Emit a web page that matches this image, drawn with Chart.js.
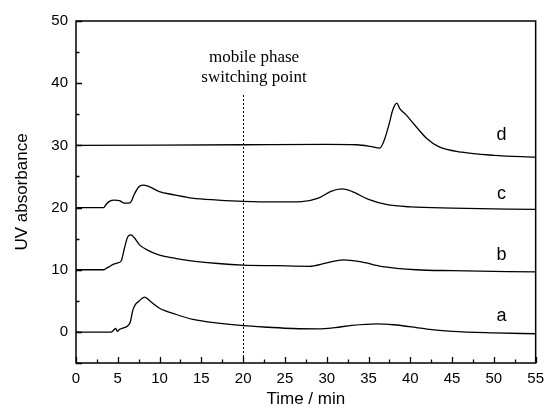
<!DOCTYPE html>
<html>
<head>
<meta charset="utf-8">
<script src="https://cdn.jsdelivr.net/npm/chart.js@4"></script>
<style>
  html, body { margin: 0; padding: 0; background: #fff; }
  #wrap { width: 551px; height: 414px; }
</style>
</head>
<body>
<div id="wrap"><canvas id="chart"></canvas></div>
<script>
// chromatogram traces (time in min, absorbance)
const timeA = [0, 2, 4.2, 4.5, 4.75, 4.95, 5.2, 5.6, 6.2, 6.5, 6.8, 7.1, 7.5, 8.2, 9, 10, 12, 14, 17, 20, 23, 26, 29, 31, 33, 36, 38, 40.7, 42, 45, 50, 55];
const valA  = [0, -0.05, -0.05, 0.3, 0.55, 0.1, 0.4, 0.6, 1.0, 1.6, 3.5, 4.4, 4.9, 5.6, 4.8, 3.8, 2.8, 2.0, 1.4, 1.0, 0.75, 0.55, 0.5, 0.7, 1.05, 1.3, 1.15, 0.7, 0.45, 0.1, -0.15, -0.3];

const timeB = [0, 3.3, 3.7, 4.0, 4.5, 5.0, 5.4, 5.8, 6.2, 6.6, 7.0, 7.6, 8.5, 9.9, 12, 14, 17, 20, 24, 27.9, 30, 32, 34, 36.7, 40.7, 45, 55];
const valB  = [10, 10, 10.3, 10.5, 10.9, 11.1, 11.4, 13.5, 15.3, 15.6, 15.1, 14.0, 13.2, 12.4, 11.8, 11.4, 11.0, 10.75, 10.65, 10.55, 11.1, 11.6, 11.3, 10.5, 10.0, 9.85, 9.65];

const timeC = [0, 3.3, 3.6, 4.0, 4.6, 5.2, 5.6, 6.0, 6.5, 7.0, 7.5, 8.0, 8.7, 9.9, 11.9, 13.9, 17, 20, 24, 27, 29, 30.5, 31.8, 33, 35, 37.1, 40, 45, 55];
const valC  = [20, 20, 20.5, 21.0, 21.2, 21.1, 20.8, 20.7, 20.8, 22.2, 23.3, 23.6, 23.4, 22.6, 22.0, 21.5, 21.2, 21.0, 20.9, 20.95, 21.5, 22.6, 23.0, 22.6, 21.3, 20.5, 20.1, 19.9, 19.7];

const timeD = [0, 10, 20, 30, 33.6, 35.2, 36.35, 36.9, 37.5, 37.9, 38.4, 38.7, 39.5, 40.7, 41.9, 43.4, 46.2, 50, 55];
const valD  = [30, 30.05, 30.1, 30.15, 30.1, 29.85, 29.57, 30.9, 33.6, 35.7, 36.8, 36.0, 34.9, 33.0, 31.2, 29.8, 28.9, 28.4, 28.1];

// curve letters
const curveNames = ["a", "b", "c", "d"];
const curveLabelX = [50.9, 50.9, 50.9, 50.9];
const curveLabelY = [2.5, 12.4, 22.1, 31.7];

// switching point
const switchTime = 20;
const switchTop = 38.1;
const switchText = ["mobile phase", "switching point"];
const switchTextX = 21.3;
const switchTextY = [44.2, 40.85];

const xTicksMinor = [2.5, 7.5, 12.5, 17.5, 22.5, 27.5, 32.5, 37.5, 42.5, 47.5, 52.5];
const yTicksMinor = [-5, 5, 15, 25, 35, 45];

const toPoints = (t, v) => t.map((x, i) => ({ x: x, y: v[i] }));

const line = (t, v) => ({
    data: toPoints(t, v),
    borderColor: "#000",
    borderWidth: 1.3,
    pointRadius: 0,
    fill: false,
    cubicInterpolationMode: "monotone"
});

const decorations = {
    id: "decorations",
    afterDraw(chart) {
        const ctx = chart.ctx;
        const xs = chart.scales.x;
        const ys = chart.scales.y;
        const a = chart.chartArea;
        ctx.save();
        // frame
        ctx.strokeStyle = "#000";
        ctx.lineWidth = 1.5;
        ctx.strokeRect(a.left, a.top, a.right - a.left, a.bottom - a.top);
        // ticks, pointing inwards
        ctx.lineWidth = 1.3;
        ctx.beginPath();
        xs.ticks.forEach(t => {
            const px = Math.round(xs.getPixelForValue(t.value)) + 0.5;
            ctx.moveTo(px, a.bottom); ctx.lineTo(px, a.bottom - 6);
        });
        xTicksMinor.forEach(v => {
            const px = Math.round(xs.getPixelForValue(v)) + 0.5;
            ctx.moveTo(px, a.bottom); ctx.lineTo(px, a.bottom - 3.5);
        });
        ys.ticks.forEach(t => {
            const py = Math.round(ys.getPixelForValue(t.value)) + 0.5;
            ctx.moveTo(a.left, py); ctx.lineTo(a.left + 6, py);
        });
        yTicksMinor.forEach(v => {
            const py = Math.round(ys.getPixelForValue(v)) + 0.5;
            ctx.moveTo(a.left, py); ctx.lineTo(a.left + 3.5, py);
        });
        ctx.stroke();
        // dotted switching line
        ctx.lineWidth = 1;
        ctx.setLineDash([2, 2]);
        const sx = Math.round(xs.getPixelForValue(switchTime)) + 0.5;
        ctx.beginPath();
        ctx.moveTo(sx, ys.getPixelForValue(switchTop));
        ctx.lineTo(sx, a.bottom);
        ctx.stroke();
        ctx.setLineDash([]);
        // annotation text
        ctx.fillStyle = "#000";
        ctx.textAlign = "center";
        ctx.textBaseline = "middle";
        ctx.font = "17px 'Liberation Serif', 'Times New Roman', serif";
        switchText.forEach((s, i) => {
            ctx.fillText(s, xs.getPixelForValue(switchTextX), ys.getPixelForValue(switchTextY[i]));
        });
        // curve letters
        ctx.font = "18px 'Liberation Sans', Arial, sans-serif";
        curveNames.forEach((n, i) => {
            ctx.fillText(n, xs.getPixelForValue(curveLabelX[i]), ys.getPixelForValue(curveLabelY[i]));
        });
        ctx.restore();
    }
};

const tickFont = { family: "'Liberation Sans', Arial, sans-serif", size: 15 };
const titleFont = { family: "'Liberation Sans', Arial, sans-serif", size: 17 };

new Chart(document.getElementById("chart"), {
    type: "line",
    data: {
        datasets: [line(timeA, valA), line(timeB, valB), line(timeC, valC), line(timeD, valD)]
    },
    options: {
        responsive: true,
        maintainAspectRatio: false,
        animation: false,
        layout: { padding: { top: 21, right: 10, left: 12, bottom: 0 } },
        plugins: { legend: { display: false }, tooltip: { enabled: false } },
        scales: {
            x: {
                type: "linear",
                min: 0,
                max: 55,
                grid: { display: false, drawTicks: false },
                border: { display: false },
                ticks: { stepSize: 5, color: "#000", font: tickFont, padding: 7, maxRotation: 0 },
                title: { display: true, text: "Time / min", color: "#000", font: titleFont, padding: { top: 2 } },
                afterFit(scale) { scale.height = 51; }
            },
            y: {
                min: -5,
                max: 50,
                grid: { display: false, drawTicks: false },
                border: { display: false },
                ticks: { stepSize: 10, color: "#000", font: tickFont, padding: 8, callback: v => (v % 10 === 0 ? v : "") },
                title: { display: true, text: "UV absorbance", color: "#000", font: titleFont, padding: { top: 0, bottom: 0 } },
                afterFit(scale) { scale.width = 64; }
            }
        }
    },
    plugins: [decorations]
});
</script>
</body>
</html>
